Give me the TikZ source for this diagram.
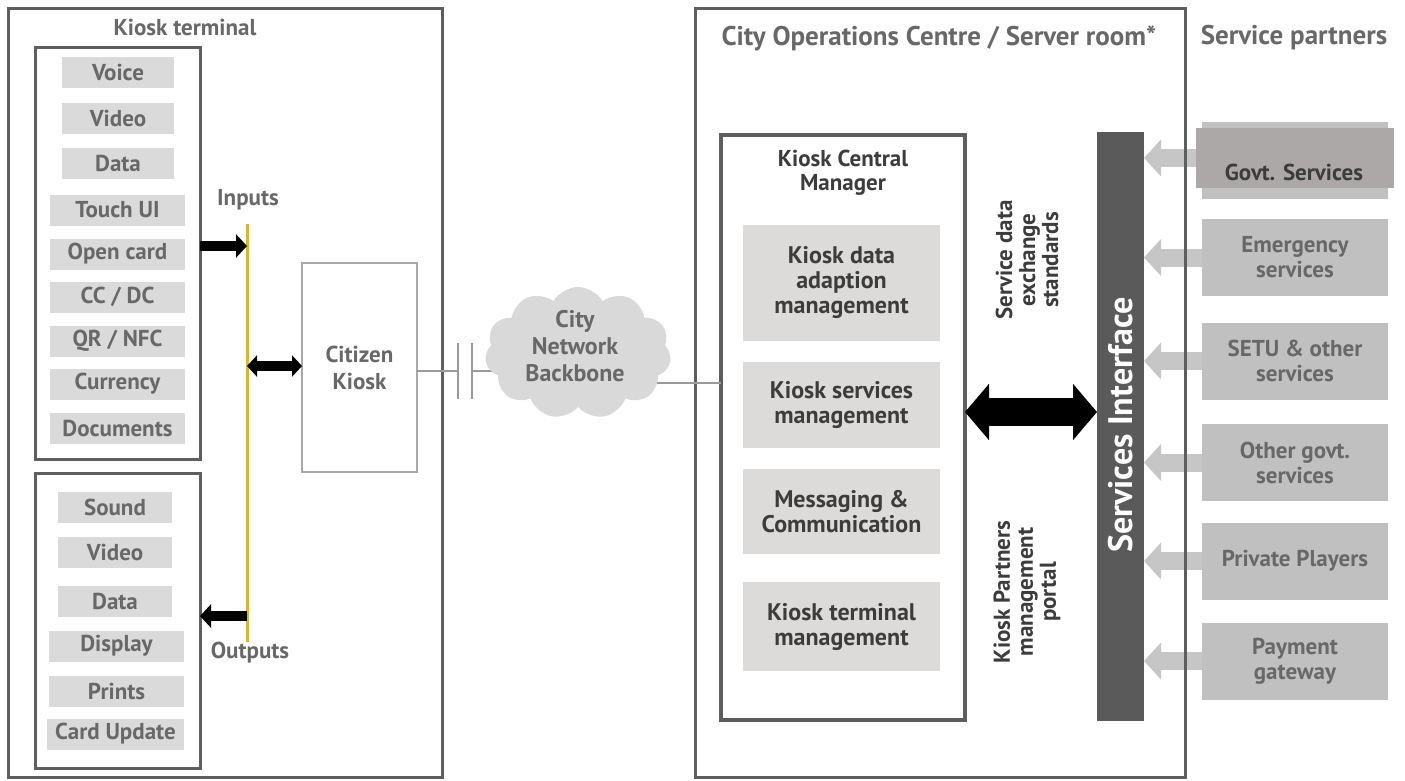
\documentclass[tikz,border=0pt]{standalone}
\usepackage{fontspec}
\setmainfont{PT Sans}
\usetikzlibrary{arrows.meta,shapes.symbols}
\definecolor{framec}{HTML}{5E5E5E}
\definecolor{txtc}{HTML}{686868}
\definecolor{dtxt}{HTML}{3C3C3C}
\definecolor{itemc}{HTML}{DADADA}
\definecolor{kcmc}{HTML}{DCDBD9}
\definecolor{partc}{HTML}{C0C0C0}
\definecolor{govtc}{HTML}{ACA8A7}
\definecolor{arrc}{HTML}{C6C6C6}
\definecolor{barc}{HTML}{5A5A5A}
\definecolor{yelc}{HTML}{D9B62E}
\definecolor{kioskc}{HTML}{A8A8A8}
\definecolor{cloudc}{HTML}{D9D9D9}
\definecolor{linec}{HTML}{9A9A9A}
\begin{document}
\begin{tikzpicture}[x=1pt,y=-1pt,
  every node/.style={inner sep=0pt, outer sep=0pt},
  frame/.style={draw=framec, line width=3},
  ttl/.style={text=txtc, font=\bfseries\fontsize{23}{26}\selectfont},
  bigttl/.style={text=txtc, font=\bfseries\fontsize{27}{30}\selectfont},
  item/.style={fill=itemc, text=txtc, minimum height=31, font=\bfseries\fontsize{23}{26}\selectfont},
  kitem/.style={fill=kcmc, text=dtxt, minimum width=197, align=center, font=\bfseries\fontsize{24}{25}\selectfont},
  partner/.style={fill=partc, text=txtc, minimum width=186, minimum height=77, align=center, font=\bfseries\fontsize{23}{25}\selectfont},
  rottxt/.style={rotate=90, text=dtxt, align=center, font=\bfseries\fontsize{23}{23}\selectfont},
  garrow/.style={draw=arrc, line width=18, -{Triangle[length=17pt,width=36pt]}},
  blkarrow/.style={draw=black, line width=10, -{Triangle[length=11pt,width=23pt]}},
  dblarrow/.style={draw=black, line width=10, {Triangle[length=10pt,width=21pt]}-{Triangle[length=10pt,width=21pt]}},
  bigarrow/.style={draw=black, line width=28, {Triangle[length=24pt,width=55pt]}-{Triangle[length=24pt,width=55pt]}},
  thinline/.style={draw=linec, line width=1.2}
]
\useasboundingbox (0,0) rectangle (1405,780);
\fill[white] (0,0) rectangle (1405,780);

% ---------- Kiosk terminal ----------
\node[frame, minimum width=434, minimum height=769] (kt) at (225,392.5) {};
\node[ttl] (kttl) at (185,27) {Kiosk terminal};
\node[frame, minimum width=165, minimum height=412] (inbox) at (117.5,253) {};
\node[frame, minimum width=165, minimum height=295] (outbox) at (117.5,620.5) {};

\node[item, minimum width=112] (i1) at (118,72) {Voice};
\node[item, minimum width=112] (i2) at (118,118) {Video};
\node[item, minimum width=112] (i3) at (118,163) {Data};
\node[item, minimum width=135] (i4) at (117.5,210) {Touch UI};
\node[item, minimum width=135] (i5) at (117.5,254) {Open card};
\node[item, minimum width=135] (i6) at (117.5,297) {CC / DC};
\node[item, minimum width=135] (i7) at (117.5,341) {QR / NFC};
\node[item, minimum width=135] (i8) at (117.5,384) {Currency};
\node[item, minimum width=135] (i9) at (117.5,428) {Documents};

\node[item, minimum width=114] (o1) at (115,507) {Sound};
\node[item, minimum width=114] (o2) at (115,552) {Video};
\node[item, minimum width=114] (o3) at (115,601) {Data};
\node[item, minimum width=135] (o4) at (116.5,646) {Display};
\node[item, minimum width=135] (o5) at (116.5,691) {Prints};
\node[item, minimum width=137] (o6) at (115.5,734) {Card Update};

% bus
\node[fill=yelc, minimum width=3, minimum height=418] (bus) at (247,433) {};
\node[ttl] (inl) at (248,200) {Inputs};
\node[ttl] (outl) at (250,653) {Outputs};

% citizen kiosk
\node[draw=kioskc, line width=2, minimum width=115, minimum height=209, align=center,
      text=txtc, font=\bfseries\fontsize{23}{27}\selectfont] (ck) at (359.5,367.5) {Citizen\\Kiosk};

\coordinate (ya) at (0,246);
\coordinate (yb) at (0,366);
\coordinate (yc) at (0,616);
\draw[blkarrow] (inbox.east |- ya) -- (bus.center |- ya);
\draw[dblarrow] (bus.center |- yb) -- (ck.west |- yb);
\draw[blkarrow] (bus.center |- yc) -- (outbox.east |- yc);

% network links
\coordinate (g1) at (458,371);
\coordinate (g2) at (472,371);
\coordinate (yd) at (0,383);
\draw[thinline] (ck.east |- g1) -- (g1);
\draw[thinline] (458,343) -- (458,399);
\draw[thinline] (472,343) -- (472,399);
\draw[thinline] (g2) -- (500,371);

% ---------- City Operations Centre ----------
\node[frame, minimum width=490, minimum height=769] (coc) at (940,392.5) {};
\node[bigttl] (cocttl) at (939,38) {City Operations Centre / Server room*};
\node[frame, line width=4, minimum width=244, minimum height=585] (kcm) at (843,427.5) {};
\draw[thinline] (600,383) -- (kcm.west |- yd);

\node[cloud, cloud puffs=11, cloud puff arc=120, cloud ignores aspect, fill=cloudc,
      minimum width=186, minimum height=132] (cloud) at (578,353) {};
\node[align=center, text=txtc, font=\bfseries\fontsize{24}{27}\selectfont] (cloudt) at (575,346) {City\\Network\\Backbone};

\node[align=center, text=dtxt, font=\bfseries\fontsize{23}{24}\selectfont] (kcmt) at (843,173) {Kiosk Central\\Manager};
\node[kitem, minimum height=116] (k1) at (841.5,283) {Kiosk data\\adaption\\management};
\node[kitem, minimum height=86] (k2) at (841.5,405) {Kiosk services\\management};
\node[kitem, minimum height=85] (k3) at (841.5,511.5) {Messaging \&\\Communication};
\node[kitem, minimum height=89] (k4) at (841.5,626.5) {Kiosk terminal\\management};

\node[fill=barc, minimum width=47, minimum height=589] (si) at (1120.5,426.5) {};
\node[rotate=90, text=white, font=\bfseries\fontsize{34}{38}\selectfont] (sit) at (1120.5,425) {Services Interface};

\node[rottxt] (sdes) at (1027,260) {Service data\\exchange\\standards};
\node[rottxt] (kpmp) at (1027,592) {Kiosk Partners\\management\\portal};

\coordinate (ye) at (0,412);
\draw[bigarrow] (kcm.east |- ye) -- (si.west |- ye);

% ---------- Service partners ----------
\node[bigttl] (spttl) at (1294,38) {Service partners};
\node[fill=partc, minimum width=186, minimum height=77] (gl) at (1295,160.5) {};
\node[partner] (p2) at (1295,257.5) {Emergency\\services};
\node[partner] (p3) at (1295,361) {SETU \& other\\services};
\node[partner] (p4) at (1295,462.5) {Other govt.\\services};
\node[partner] (p5) at (1295,561) {Private Players};
\node[partner] (p6) at (1295,661) {Payment\\gateway};

\draw[garrow] (gl.west |- 0,158) -- (si.east |- 0,158);
\draw[garrow] (p2.west) -- (si.east |- p2.west);
\draw[garrow] (p3.west) -- (si.east |- p3.west);
\draw[garrow] (p4.west) -- (si.east |- p4.west);
\draw[garrow] (p5.west) -- (si.east |- p5.west);
\draw[garrow] (p6.west) -- (si.east |- p6.west);
\node[fill=govtc, minimum width=198, minimum height=60] (gd) at (1295,158) {};
\node[text=dtxt, font=\bfseries\fontsize{23}{26}\selectfont] (gt) at (1294,172) {Govt. Services};
% redraw COC right edge on top of arrows
\draw[framec, line width=3] (coc.north east) -- (coc.south east);
\end{tikzpicture}
\end{document}
